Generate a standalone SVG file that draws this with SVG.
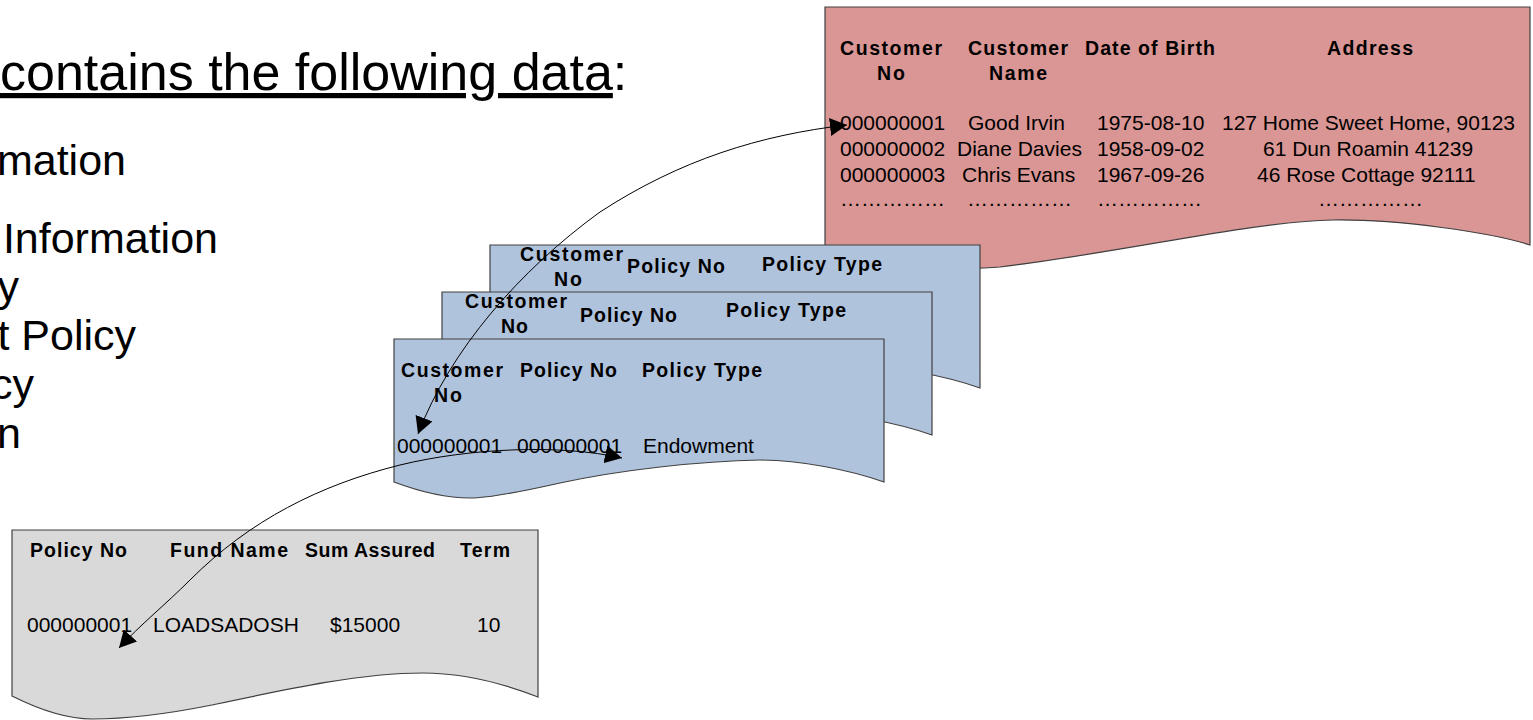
<svg xmlns="http://www.w3.org/2000/svg" width="1533" height="720" viewBox="0 0 1533 720">
<style>
text{font-family:"Liberation Sans",Arial,sans-serif;fill:#000}
.t{font-size:52px}
.b{font-size:43px}
.h{font-size:19.5px;font-weight:bold}
.d{font-size:21px}
.doc{stroke:#404040;stroke-width:1.2}
.red{fill:#D99694}
.blue{fill:#B0C3DC}
.gray{fill:#D9D9D9}
.c{fill:none;stroke:#000;stroke-width:1}
</style>
<defs>
<marker id="ah" viewBox="0 0 17 18" refX="17" refY="9" markerWidth="17" markerHeight="18" markerUnits="userSpaceOnUse" orient="auto-start-reverse">
<path d="M0,0 L17,9 L0,18 Z" fill="#000"/>
</marker>
<path id="bluedoc" d="M0,0 H490 V143 C456,131 406,121 366,121 C306,122 226,131 166,144 C126,153 96,159 76,159 C46,159 16,149 0,143 Z"/>
</defs>

<g id="title">
<text class="t" x="0" y="90"><tspan text-decoration="underline">contains the following data</tspan>:</text>
</g>
<g id="list">
<text class="b" x="126" y="175" text-anchor="end">mation</text>
<text class="b" x="218" y="253" text-anchor="end">Information</text>
<text class="b" x="19" y="301" text-anchor="end">y</text>
<text class="b" x="136" y="350" text-anchor="end">t Policy</text>
<text class="b" x="34" y="399" text-anchor="end">cy</text>
<text class="b" x="21" y="448" text-anchor="end">n</text>
</g>

<g id="customer-table">
<path class="doc red" d="M825,7 H1530 V245 C1490,232 1395,219 1333,220 C1255,221 1125,252 1000,267 C935,273 875,259 825,247 Z"/>
<text class="h" x="840" y="55" textLength="102">Customer</text>
<text class="h" x="877" y="80" textLength="28">No</text>
<text class="h" x="968" y="55" textLength="100">Customer</text>
<text class="h" x="989" y="80" textLength="58">Name</text>
<text class="h" x="1085" y="55" textLength="130">Date of Birth</text>
<text class="h" x="1327" y="55" textLength="86">Address</text>
<text class="d" x="840" y="130">000000001</text>
<text class="d" x="968" y="130">Good Irvin</text>
<text class="d" x="1097" y="130">1975-08-10</text>
<text class="d" x="1222" y="130">127 Home Sweet Home, 90123</text>
<text class="d" x="840" y="156">000000002</text>
<text class="d" x="957" y="156">Diane Davies</text>
<text class="d" x="1097" y="156">1958-09-02</text>
<text class="d" x="1263" y="156">61 Dun Roamin 41239</text>
<text class="d" x="840" y="182">000000003</text>
<text class="d" x="962" y="182">Chris Evans</text>
<text class="d" x="1097" y="182">1967-09-26</text>
<text class="d" x="1257" y="182">46 Rose Cottage 92111</text>
<text class="d" x="840" y="206">……………</text>
<text class="d" x="967" y="206">……………</text>
<text class="d" x="1097" y="206">……………</text>
<text class="d" x="1318" y="206">……………</text>
</g>

<g id="policy-table-3">
<use href="#bluedoc" class="doc blue" transform="translate(490,245)"/>
<text class="h" x="520" y="261" textLength="103">Customer</text>
<text class="h" x="554" y="286" textLength="28">No</text>
<text class="h" x="627" y="273" textLength="98">Policy No</text>
<text class="h" x="762" y="271" textLength="120">Policy Type</text>
</g>
<g id="policy-table-2">
<use href="#bluedoc" class="doc blue" transform="translate(442,292)"/>
<text class="h" x="465" y="308" textLength="102">Customer</text>
<text class="h" x="501" y="333" textLength="27">No</text>
<text class="h" x="580" y="322" textLength="97">Policy No</text>
<text class="h" x="726" y="317" textLength="120">Policy Type</text>
</g>
<g id="policy-table-1">
<use href="#bluedoc" class="doc blue" transform="translate(394,339)"/>
<text class="h" x="401" y="377" textLength="102">Customer</text>
<text class="h" x="434" y="402" textLength="28">No</text>
<text class="h" x="520" y="377" textLength="97">Policy No</text>
<text class="h" x="642" y="377" textLength="120">Policy Type</text>
<text class="d" x="397" y="453">000000001</text>
<text class="d" x="517" y="453">000000001</text>
<text class="d" x="643" y="453">Endowment</text>
</g>

<g id="fund-table">
<path class="doc gray" d="M12,530 H538 V697 C502,683 462,673 423,673 C362,673 292,688 212,705 C162,715 122,719 92,719 C62,719 32,706 12,696 Z"/>
<text class="h" x="30" y="557" textLength="97">Policy No</text>
<text class="h" x="170" y="557" textLength="118">Fund Name</text>
<text class="h" x="305" y="557" textLength="130">Sum Assured</text>
<text class="h" x="460" y="557" textLength="50">Term</text>
<text class="d" x="27" y="632">000000001</text>
<text class="d" x="153" y="632">LOADSADOSH</text>
<text class="d" x="330" y="632">$15000</text>
<text class="d" x="477" y="632">10</text>
</g>

<g id="connectors">
<path class="c" d="M418,434 C450,350 520,270 600,212 C680,160 760,135 847,125" marker-start="url(#ah)" marker-end="url(#ah)"/>
<path class="c" d="M622,458 C560,444 470,448 400,465 C320,485 250,520 190,580 C165,605 140,625 119,648" marker-start="url(#ah)" marker-end="url(#ah)"/>
</g>
</svg>
